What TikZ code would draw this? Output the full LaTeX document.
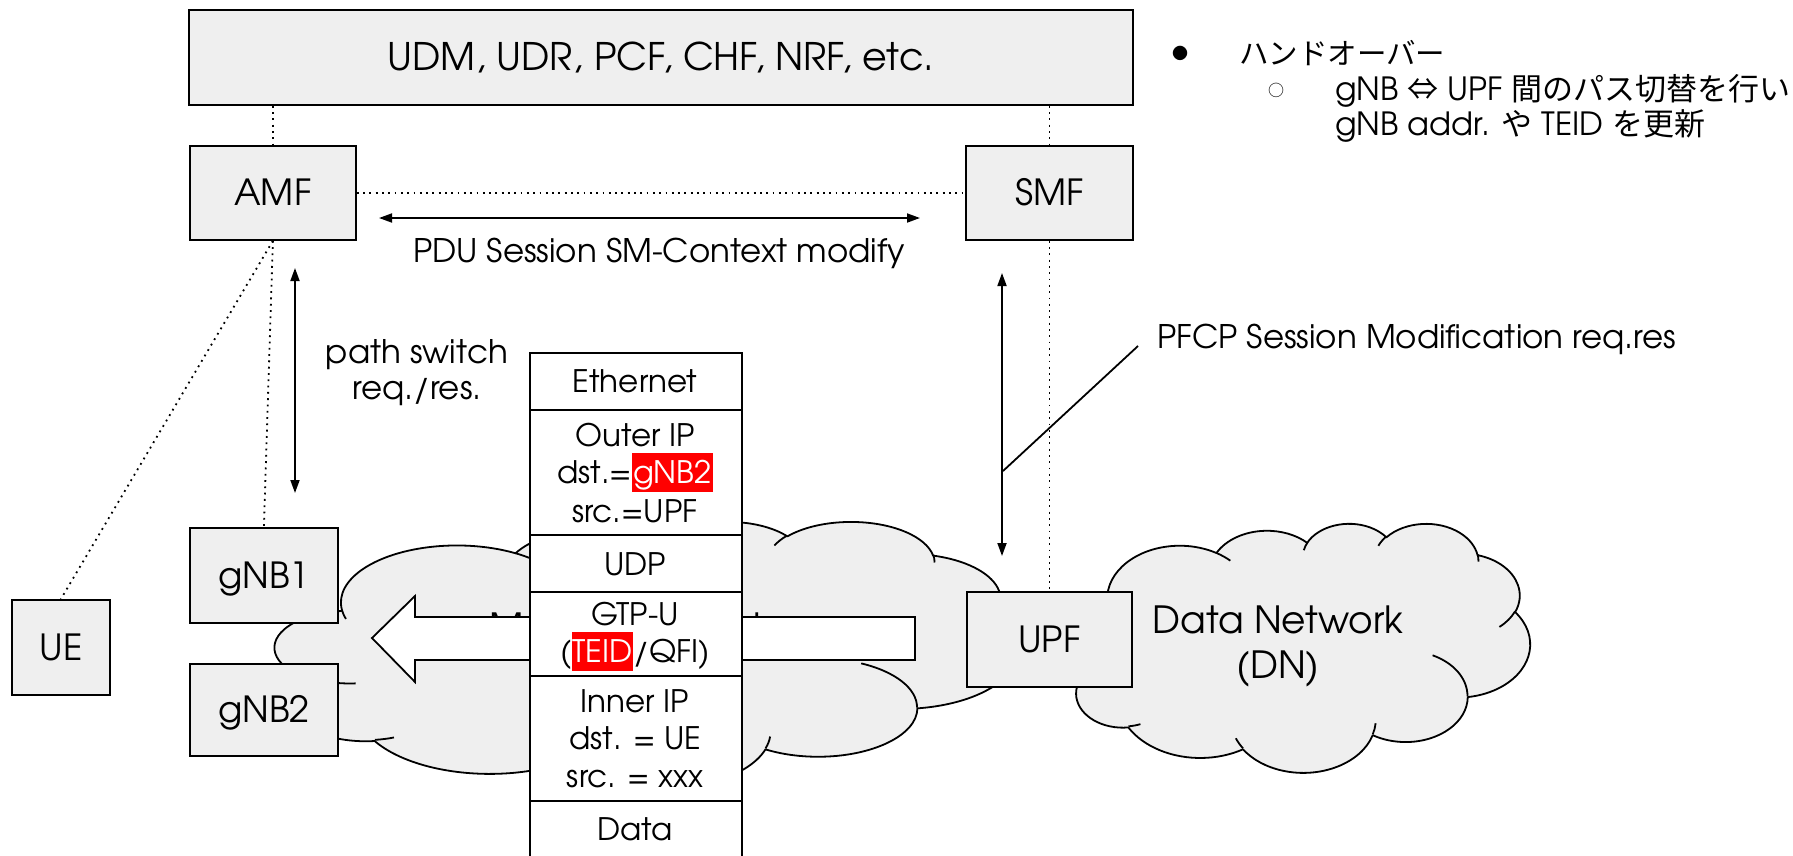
\documentclass[tikz,border=0pt]{standalone}
\usepackage{fontspec}
\setmainfont{TeX Gyre Adventor}
\newfontfamily\jp{Noto Sans CJK JP}
\usetikzlibrary{arrows.meta}

\definecolor{boxgray}{HTML}{EFEFEF}
\definecolor{hlred}{HTML}{FF0000}

\newcommand\fsz[1]{\fontsize{#1}{#1}\selectfont}
\newcommand\redhl[1]{{\setlength{\fboxsep}{0pt}\colorbox{hlred}{\kern1pt\textcolor{white}{\rule[-9pt]{0pt}{39pt}#1}\kern1pt}}}

% Office-style cloud in a 4320 x 4320 grid: #1,#2 = top-left corner, #3,#4 = width, height
\newcommand\pptcloud[4]{%
  \def\clX{#1}\def\clY{#2}%
  \pgfmathsetmacro\clW{#3/4320}\pgfmathsetmacro\clH{#4/4320}%
  \path[cloudbody] [mv={390}{1437}]
    [pa={675.3}{919.0}{-190.48748}{123.78053}]
    [pa={533.3}{726.7}{-144.10238}{89.94523}]
    [pa={436.5}{594.5}{-145.80792}{99.72302}]
    [pa={485.7}{659.5}{-130.98607}{117.24173}]
    [pa={533.3}{727.3}{-78.70888}{109.02692}]
    [pa={677.5}{922.0}{-46.26725}{130.269}]
    [pa={578.5}{786.7}{0.62502}{114.03333}]
    [pa={675.2}{921.5}{22.4516}{115.17255}]
    [pa={772.0}{1054.3}{66.24263}{75.71102}]
    [pa={436.0}{591.8}{-274.94208}{146.73557}]
    [pa={434.5}{594.5}{-246.8285}{152.51885}]
    -- cycle;
  \path[cloudcrease]
    [mv={469.3}{2617.7}] [pa={434.5}{594.5}{86.742}{26.4295}]
    [mv={692.8}{3489.9}] [pa={436.0}{591.8}{73.61047}{11.44747}]
    [mv={1647.8}{3909.0}] [pa={675.2}{921.5}{137.62415}{14.0811}]
    [mv={2882.7}{3475.1}] [pa={675.2}{921.5}{6.45327}{15.99835}]
    [mv={3412.9}{2295.4}] [pa={578.5}{786.7}{-70.29235}{70.91737}]
    [mv={4179.8}{1535.4}] [pa={533.3}{727.3}{30.31803}{27.7515}]
    [mv={3832.4}{542.6}] [pa={485.7}{659.5}{-13.74433}{14.8589}]
    [mv={2907.8}{395.2}] [pa={485.7}{659.5}{-149.18145}{18.19537}]
    [mv={2214.1}{472.0}] [pa={436.5}{594.5}{-163.49427}{17.68635}]
    [mv={1400.0}{519.2}] [pa={675.3}{919.0}{-66.70695}{12.31935}]
    [mv={412.7}{1578.9}] [pa={675.3}{919.0}{157.65435}{11.85817}];
}

\begin{document}
\begin{tikzpicture}[x=1pt, y=-1pt,
  box/.style={draw, line width=1.8pt, fill=boxgray, inner sep=0pt,
    text height=26pt, text depth=0pt, font=\fsz{36}, anchor=north west},
  cell/.style={draw, line width=1.8pt, fill=white, inner sep=0pt,
    minimum width=212pt, anchor=north west},
  celltxt/.style={anchor=base, inner sep=0pt, font=\fsz{31}},
  lbl/.style={inner sep=0pt, font=\fsz{32.5}},
  dotl/.style={line width=1.8pt, dash pattern=on 1.8pt off 4.5pt},
  dbl/.style={line width=1.8pt, {Triangle[length=13pt,width=9pt]}-{Triangle[length=13pt,width=9pt]}},
  cloudbody/.style={draw, fill=boxgray, line width=1.8pt, line join=round},
  cloudcrease/.style={draw, line width=1.8pt},
  pa/.style n args={4}{insert path={arc[x radius={#1*\clW}, y radius={#2*\clH},
    start angle={atan2(#1*0.001*sin(#3),#2*0.001*cos(#3))},
    delta angle={mod(atan2(#1*0.001*sin((#3)+(#4)),#2*0.001*cos((#3)+(#4)))-atan2(#1*0.001*sin(#3),#2*0.001*cos(#3))+720,360)}]}},
  mv/.style 2 args={insert path={({\clX+(#1)*\clW},{\clY+(#2)*\clH})}},
]
\useasboundingbox (0,0) rectangle (1793,855);
\clip (0,0) rectangle (1793,855);

% mobile network cloud and its label
\pptcloud{275}{521}{742}{268}
\node[anchor=base, inner sep=0pt, font=\fsz{37.5}] (mob) at (631,640) {Mobile Network};

% data network cloud
\pptcloud{1066}{523}{464}{249}
\node[anchor=base, inner sep=0pt, font=\fsz{37.5}] (dn1) at (1278,633) {Data Network};
\node[anchor=base, inner sep=0pt, font=\fsz{37.5}] (dn2) at (1278,678) {(DN)};

% downlink direction arrow
\draw[line width=1.8pt, fill=white] (372,638) -- (415,596) -- (415,617) -- (915,617)
  -- (915,660) -- (415,660) -- (415,682) -- cycle;

% protocol stack
\node[cell, minimum height=57pt] (eth) at (529,352) {};
\node[cell, minimum height=125pt] (oip) at (529,409) {};
\node[cell, minimum height=57pt] (udp) at (529,534) {};
\node[cell, minimum height=84pt] (gtp) at (529,591) {};
\node[cell, minimum height=125pt] (iip) at (529,675) {};
\node[cell, minimum height=80pt] (dat) at (529,800) {};
\node[celltxt] (tEth) at (635,392) {Ethernet};
\node[celltxt] (tO1) at (635,446) {Outer IP};
\node[celltxt] (tO2) at (635,483) {dst.=\redhl{gNB2}};
\node[celltxt] (tO3) at (635,522) {src.=UPF};
\node[celltxt] (tU) at (635,575) {UDP};
\node[celltxt] (tG1) at (635,625) {GTP-U};
\node[celltxt] (tG2) at (635,662) {(\redhl{TEID}/QFI)};
\node[celltxt] (tI1) at (635,712) {Inner IP};
\node[celltxt] (tI2) at (635,749) {dst. = UE};
\node[celltxt] (tI3) at (635,787) {src. = xxx};
\node[celltxt] (tD) at (635,840) {Data};

% network functions
\node[box, minimum width=944pt, minimum height=95pt, font=\fsz{38}, text height=27pt] (udm) at (188,9) {UDM, UDR, PCF, CHF, NRF, etc.};
\node[box, minimum width=166pt, minimum height=94pt] (amf) at (189,145) {AMF};
\node[box, minimum width=167pt, minimum height=94pt] (smf) at (965,145) {SMF};
\node[box, minimum width=148pt, minimum height=95pt] (gnb1) at (189,527) {gNB1};
\node[box, minimum width=148pt, minimum height=92pt] (gnb2) at (189,663) {gNB2};
\node[box, minimum width=98pt, minimum height=95pt] (ue) at (11,599) {UE};
\node[box, minimum width=165pt, minimum height=95pt] (upf) at (966,591) {UPF};

% interfaces
\draw[dotl] (udm.south -| amf.north) -- (amf.north);
\draw[dotl] (udm.south -| smf.north) -- (smf.north);
\draw[dotl] (amf.east) -- (smf.west);
\draw[dotl] (amf.south) -- (gnb1.north);
\draw[dotl] (amf.south) -- (ue.north);
\draw[dotl] (smf.south) -- (upf.north);

% signalling
\coordinate (pduA) at (379,218);
\coordinate (pduB) at (920,218);
\draw[dbl] (pduA) -- (pduB);
\node[lbl, anchor=base] (pdu) at (659,262) {PDU Session SM-Context modify};

\coordinate (psA) at (295,268);
\coordinate (psB) at (295,493);
\draw[dbl] (psA) -- (psB);
\node[lbl, anchor=base] (ps1) at (417,363) {path switch};
\node[lbl, anchor=base] (ps2) at (417,399) {req./res.};

\coordinate (pfA) at (1002,273);
\coordinate (pfB) at (1002,556);
\draw[dbl] (pfA) -- (pfB);
\node[lbl, anchor=base west] (pfcp) at (1157,348) {PFCP Session Modification req.res};
\coordinate (pfFoot) at (1003,471);
\draw[line width=1.8pt] (pfFoot) -- ([xshift=-19pt, yshift=2pt]pfcp.base west);

% notes
\node[inner sep=0pt, font=\jp\fsz{16}] (b1) at (1180,53) {●};
\node[anchor=base west, inner sep=0pt, font=\jp\fsz{29.5}] (n1) at (1239,64) {ハンドオーバー};
\node[inner sep=0pt, font=\jp\fsz{16}] (b2) at (1276,90) {○};
\node[anchor=base west, inner sep=0pt, font=\fsz{32}] (n2) at (1335,100)
  {gNB {\jp\fsz{31}⇔} UPF {\jp\fsz{31}間のパス切替を行い}};
\node[anchor=base west, inner sep=0pt, font=\fsz{32}] (n3) at (1335,135)
  {gNB addr. {\jp\fsz{31}や} TEID {\jp\fsz{31}を更新}};
\end{tikzpicture}
\end{document}
